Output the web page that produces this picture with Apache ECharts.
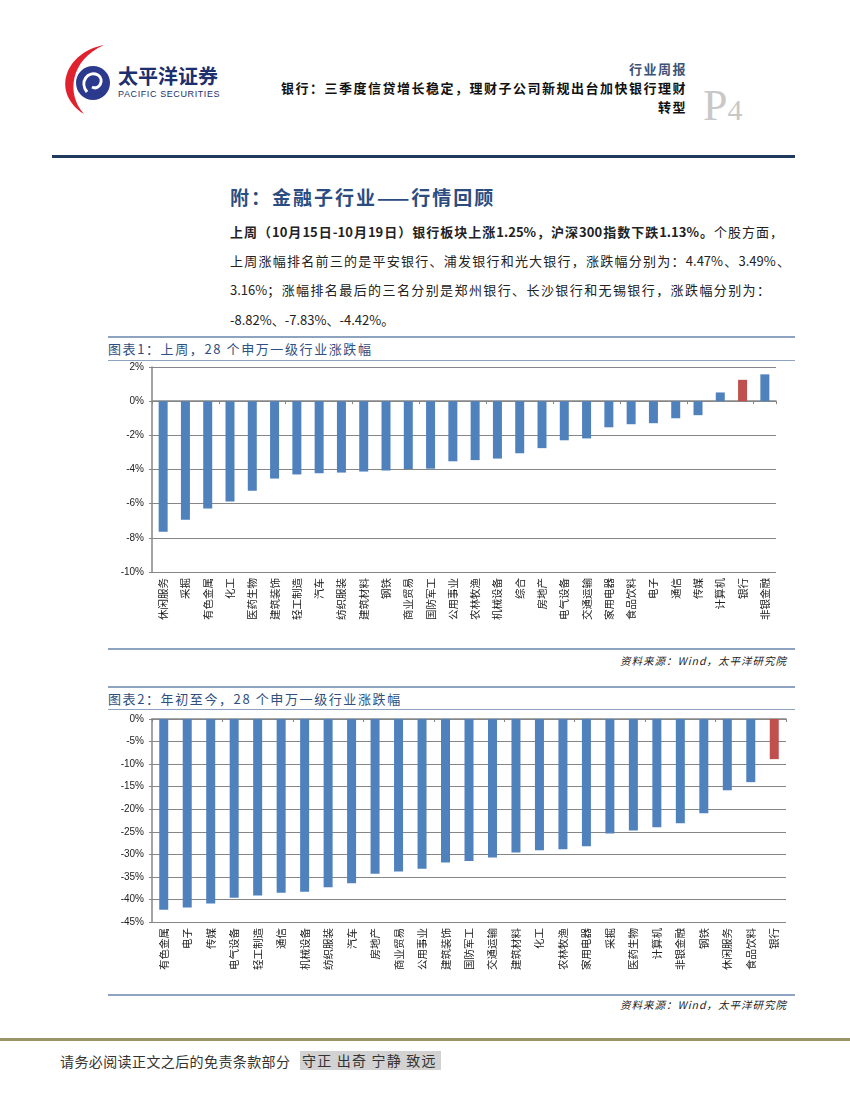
<!DOCTYPE html>
<html><head><meta charset="utf-8">
<script src="https://cdn.jsdelivr.net/npm/echarts@6/dist/echarts.min.js"></script>
<style>
body{margin:0;background:#fff;width:850px;height:1100px;position:relative;overflow:hidden;font-family:"Noto Sans CJK SC","Liberation Sans",sans-serif;color:#222}
.abs{position:absolute;white-space:nowrap}
.para{position:absolute;left:230px;width:553px;font-size:13px;line-height:16px;text-align:justify;text-align-last:justify}
.cap{position:absolute;left:108px;font-size:13px;letter-spacing:1.6px;color:#2f4f80}
.src{position:absolute;right:63px;font-size:10.5px;letter-spacing:1px;font-style:italic;color:#222}
.hl{position:absolute;left:108px;width:687px}
</style></head>
<body>
<svg class="abs" style="left:0;top:0" width="240" height="130">
  <path d="M104 45 C66 52 50 92 84 114 C66 94 70 60 104 45 Z" fill="#e0212e"/>
  <circle cx="93" cy="83" r="17" fill="#2b3a8c"/>
  <path d="M87 92 C79 82 88 70 98 75 C105 80 99 91 92 87" stroke="#fff" stroke-width="3" fill="none"/>
  <text x="118" y="84" font-size="20" font-weight="bold" fill="#1d2f6e" font-family="Noto Sans CJK SC">太平洋证券</text>
  <text x="118" y="97" font-size="9" fill="#1d2f6e" font-family="Liberation Sans" letter-spacing="0.6">PACIFIC SECURITIES</text>
</svg>
<div class="abs" style="right:163px;top:59px;font-size:13px;letter-spacing:1.5px;font-weight:bold;color:#3b5478">行业周报</div>
<div class="abs" style="right:163px;top:78px;font-size:13px;letter-spacing:1.5px;font-weight:bold;color:#111">银行：三季度信贷增长稳定，理财子公司新规出台加快银行理财</div>
<div class="abs" style="right:163px;top:97px;font-size:13px;letter-spacing:1.5px;font-weight:bold;color:#111">转型</div>
<div class="abs" style="left:703px;top:80px;font-family:'Liberation Serif',serif;color:#c8c8c8"><span style="font-size:44px">P</span><span style="font-size:30px">4</span></div>
<div class="abs" style="left:52px;top:155px;width:743px;height:3px;background:#1f3a5c"></div>

<div class="abs" style="left:230px;top:183px;font-size:19px;letter-spacing:2px;font-weight:bold;color:#2b4c80">附：金融子行业——行情回顾</div>
<div class="para" style="top:224px"><b>上周（10月15日-10月19日）银行板块上涨1.25%，沪深300指数下跌1.13%。</b>个股方面，</div>
<div class="para" style="top:253px;width:560px">上周涨幅排名前三的是平安银行、浦发银行和光大银行，涨跌幅分别为：4.47%、3.49%、</div>
<div class="para" style="top:282px;width:540px">3.16%；涨幅排名最后的三名分别是郑州银行、长沙银行和无锡银行，涨跌幅分别为：</div>
<div class="para" style="top:312px;text-align-last:left">-8.82%、-7.83%、-4.42%。</div>

<div class="hl" style="top:336px;height:2px;background:#8ea3c0"></div>
<div class="cap" style="top:339px">图表1：上周，28 个申万一级行业涨跌幅</div>
<div class="hl" style="top:360px;height:1px;background:#8ea3c0"></div>
<div id="c1" class="abs" style="left:100px;top:361px;width:700px;height:287px"></div>
<div class="hl" style="top:648px;height:2px;background:#8ea3c0"></div>
<div class="src" style="top:653px">资料来源：Wind，太平洋研究院</div>

<div class="hl" style="top:686px;height:2px;background:#8ea3c0"></div>
<div class="cap" style="top:689px">图表2：年初至今，28 个申万一级行业涨跌幅</div>
<div class="hl" style="top:709px;height:1px;background:#8ea3c0"></div>
<div id="c2" class="abs" style="left:100px;top:710px;width:700px;height:284px"></div>
<div class="hl" style="top:994px;height:2px;background:#8ea3c0"></div>
<div class="src" style="top:997px">资料来源：Wind，太平洋研究院</div>

<div class="abs" style="left:0;top:1038px;width:850px;height:3px;background:#9a9467"></div>
<div class="abs" style="left:60px;top:1051px;font-size:14px;letter-spacing:0.4px;color:#333">请务必阅读正文之后的免责条款部分</div>
<div class="abs" style="left:300px;top:1051px;width:139px;height:19px;background:#d2d2d2;font-size:14px;letter-spacing:1.2px;color:#333;line-height:19px;padding-left:2px">守正 出奇 宁静 致远</div>

<script>
const cats1 = ['休闲服务','采掘','有色金属','化工','医药生物','建筑装饰','轻工制造','汽车','纺织服装','建筑材料','钢铁','商业贸易','国防军工','公用事业','农林牧渔','机械设备','综合','房地产','电气设备','交通运输','家用电器','食品饮料','电子','通信','传媒','计算机','银行','非银金融'];
const vals1 = [-7.65,-6.94,-6.29,-5.88,-5.24,-4.53,-4.29,-4.22,-4.18,-4.12,-4.06,-3.97,-3.95,-3.52,-3.45,-3.36,-3.05,-2.75,-2.29,-2.18,-1.53,-1.35,-1.29,-1.0,-0.82,0.51,1.25,1.57];
const cats2 = ['有色金属','电子','传媒','电气设备','轻工制造','通信','机械设备','纺织服装','汽车','房地产','商业贸易','公用事业','建筑装饰','国防军工','交通运输','建筑材料','化工','农林牧渔','家用电器','采掘','医药生物','计算机','非银金融','钢铁','休闲服务','食品饮料','银行'];
const vals2 = [-42.3,-41.8,-40.9,-39.6,-39.1,-38.5,-38.3,-37.3,-36.4,-34.3,-33.8,-33.2,-31.8,-31.5,-30.7,-29.6,-29.1,-28.9,-28.2,-25.4,-24.7,-24.0,-23.1,-20.9,-15.8,-14.0,-8.9];
const highlight = '银行';

function makeOption(cats, vals, yMin, yMax, yInt, grid){
  const gray = '#868686';
  return {
    animation:false,
    grid: grid,
    xAxis:[
      {type:'category', data:cats, position:'bottom',
       axisLine:{onZero:false, show:false}, axisTick:{show:false},
       axisLabel:{rotate:90, interval:0, fontSize:10.5, color:'#222', margin:6, fontFamily:'Noto Sans CJK SC'}},
      {type:'category', data:cats, position:'top',
       axisLine:{onZero:true, show:true, lineStyle:{color:gray, width:1.5}},
       axisTick:{show:true, inside:true, length:3, lineStyle:{color:gray}},
       axisLabel:{show:false}}
    ],
    yAxis:{type:'value', min:yMin, max:yMax, interval:yInt,
      axisLine:{show:true, lineStyle:{color:gray, width:1.5}},
      axisTick:{show:true, length:3, lineStyle:{color:gray}},
      splitLine:{show:true, lineStyle:{color:gray, width:1.2}},
      axisLabel:{formatter:'{value}%', fontSize:10, color:'#222', margin:8, fontFamily:'Liberation Sans'}},
    series:[{type:'bar', data:vals, barWidth:9, xAxisIndex:0,
      itemStyle:{color:function(p){return p.name===highlight?'#c0504d':'#4f81bd';}}}]
  };
}
const c1 = echarts.init(document.getElementById('c1'), null, {renderer:'canvas'});
c1.setOption(makeOption(cats1, vals1, -10, 2, 2, {left:52, right:24, top:6, bottom:76}));
const c2 = echarts.init(document.getElementById('c2'), null, {renderer:'canvas'});
c2.setOption(makeOption(cats2, vals2, -45, 0, 5, {left:52, right:14, top:9, bottom:72}));
</script>
</body></html>
